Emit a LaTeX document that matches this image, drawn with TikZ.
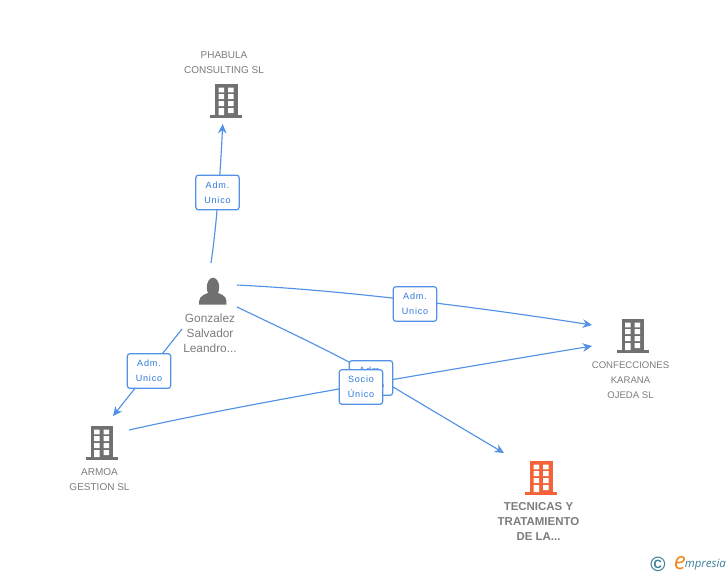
\documentclass[tikz,border=0pt]{standalone}
\usepackage{fontspec}
\setmainfont{Liberation Sans}
\newfontfamily\spacedfont[LetterSpace=9]{Liberation Sans}
\newfontfamily\logofont{Open Sans}
\usetikzlibrary{arrows.meta,backgrounds}
\definecolor{iconGrey}{HTML}{707070}
\definecolor{txtGrey}{HTML}{7C7C7C}
\definecolor{linkBlue}{HTML}{5191E6}
\definecolor{lblBlue}{HTML}{2F78DC}
\definecolor{hot}{HTML}{F4623A}
\definecolor{logoTeal}{HTML}{3E7F9A}
\definecolor{logoOr}{HTML}{EE8A1E}
\tikzset{
  px/.style={x=0.75pt,y=-0.75pt},
  caption/.style={font=\fontsize{7.5}{11.2}\selectfont,text=txtGrey,align=center,inner sep=0pt},
  hotcaption/.style={font=\fontsize{8.6}{11.2}\selectfont\bfseries,text=txtGrey,align=center,inner sep=0pt},
  linklabel/.style={draw=linkBlue,fill=white,rounded corners=2pt,line width=0.9pt,
    minimum width=32.5pt,minimum height=26pt,inner sep=0pt,align=center,text=lblBlue,
    font=\fontsize{6.8}{11.2}\selectfont\spacedfont},
  link/.style={draw=linkBlue,line width=0.85pt},
  linkend/.style={link,-{Stealth[length=7pt,width=6.5pt]}},
  pics/building/.style={code={
    \fill[#1] (-11,-17) rectangle (11.5,15);
    \fill[#1] (-16,14) rectangle (16,17);
    \fill[white] (-7.4,-13.4) rectangle (-2,-8.6) (2,-13.4) rectangle (7.7,-8.6)
      (-7.4,-7) rectangle (-2,-2) (2,-7) rectangle (7.7,-2)
      (-7.4,0) rectangle (-2,5) (2,0) rectangle (7.7,5)
      (-7.4,7) rectangle (-2,14.2) (2,7) rectangle (7.7,12);
  }}
}
\begin{document}
\begin{tikzpicture}[px]
\useasboundingbox (0,0) rectangle (728,575);
% connector ends
\coordinate (pUp) at (211,263);
\coordinate (phEnd) at (222.7,124);
\coordinate (pRight) at (237,285);
\coordinate (coEnd) at (592,325);
\coordinate (pLow) at (237,307);
\coordinate (teMid) at (372,374.5);
\coordinate (teEnd) at (504,453);
\coordinate (arStart) at (129,430);
\coordinate (coEndB) at (592,346);
\coordinate (pLeft) at (182,329);
\coordinate (arEnd) at (113,416);
% labels
\node[linklabel] (l1) at (217.5,192.5) {Adm.\\Unico};
\node[linklabel] (l2) at (415,304) {Adm.\\Unico};
\node[linklabel] (l3) at (149,371) {Adm.\\Unico};
\node[linklabel] (l4) at (371,378) {Adm.\\Unico};
\node[linklabel] (l5) at (361,387) {Socio\\Único};
% connectors
\begin{scope}[on background layer]
\draw[linkend] (pUp) .. controls (216,230) and (220,180) .. (phEnd);
\draw[linkend] (pRight) .. controls (340,290) and (470,306) .. (coEnd);
\draw[linkend] (pLow) .. controls (285,330) and (330,351) .. (teMid) .. controls (410,397) and (460,427) .. (teEnd);
\draw[linkend] (arStart) .. controls (250,403) and (400,378) .. (coEndB);
\draw[linkend] (pLeft) -- (arEnd);
\end{scope}
% icons
\pic at (226,101) {building=iconGrey};
\pic at (632.5,336) {building=iconGrey};
\pic at (101.5,443) {building=iconGrey};
\pic at (541,478) {building=hot};
% person
\fill[iconGrey] (213,287.3) ellipse (6.2 and 9.6);
\fill[iconGrey] (199,304.5) .. controls (199,298) and (200,296) .. (208,293)
  -- (218,293) .. controls (226,296) and (226.5,298) .. (226.5,304.5) -- cycle;
% captions
\node[caption] (phabula) at (224,62.8) {PHABULA\\CONSULTING SL};
\node[caption,font=\fontsize{8.9}{11.2}\selectfont] (person) at (210,333.5) {Gonzalez\\Salvador\\Leandro...};
\node[caption,font=\fontsize{7.2}{11.2}\selectfont] (conf) at (630.5,380) {CONFECCIONES\\KARANA\\OJEDA SL};
\node[caption] (armoa) at (99.5,479.5) {ARMOA\\GESTION SL};
\node[hotcaption] (tec) at (538.5,521.5) {TECNICAS Y\\TRATAMIENTO\\DE LA...};
% logo
\node[inner sep=0pt,text=logoTeal,font=\fontsize{15.5}{15.5}\selectfont\bfseries] (copy) at (658,564) {©};
\node[inner sep=0pt,anchor=base west,font=\logofont\itshape\fontsize{8.6}{10}\selectfont,text=logoTeal] (brand) at (684.5,567.5) {mpresia};
\node[inner sep=0pt,anchor=base east,font=\logofont\itshape\fontsize{18}{18}\selectfont,text=logoOr] (brandE) at (686,569) {e};
\end{tikzpicture}
\end{document}
